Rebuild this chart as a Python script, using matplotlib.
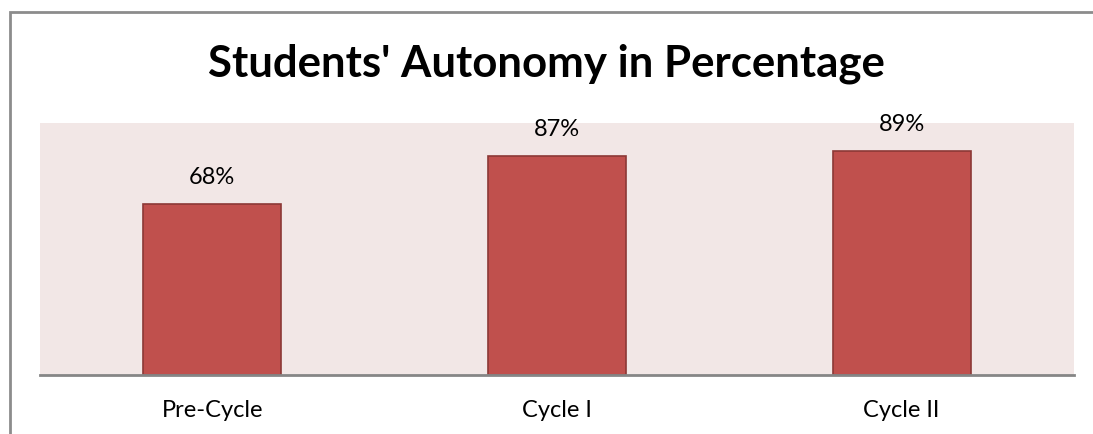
import matplotlib
matplotlib.use("Agg")
import matplotlib.pyplot as plt
from matplotlib.patches import Rectangle

categories = ["Pre-Cycle", "Cycle I", "Cycle II"]
autonomy = [0.68, 0.87, 0.89]
value_labels = ["68%", "87%", "89%"]

plt.rcParams['font.family'] = ['Lato', 'DejaVu Sans']

fig = plt.figure(figsize=(10.93, 4.34), dpi=100)

# outer chart border (cropped on the right and bottom)
fig.patches.append(Rectangle((10 / 1093, -0.1), 1.2, 1 - 11.5 / 434 + 0.1,
                             transform=fig.transFigure, fill=False,
                             edgecolor='#8c8c8c', linewidth=2))

ax = fig.add_axes([40 / 1093, 59 / 434, 1034 / 1093, 252 / 434])
ax.set_facecolor('#f2e7e6')

x = range(len(categories))
bars = ax.bar(x, autonomy, width=0.4, color='#c0504d', edgecolor='#8c3836', linewidth=1.2)
for i, v in enumerate(autonomy):
    ax.annotate(value_labels[i], (i, v), xytext=(0, 26), textcoords='offset pixels',
                ha='center', va='center', fontsize=17, color='black')

ax.set_xlim(-0.5, 2.5)
ax.set_ylim(0, 1.0)
ax.set_yticks([])
ax.set_xticks(list(x))
ax.set_xticklabels(categories, fontsize=17)
ax.tick_params(axis='x', length=0, pad=18)
for s in ['top', 'right', 'left']:
    ax.spines[s].set_visible(False)
ax.spines['bottom'].set_color('#868686')
ax.spines['bottom'].set_linewidth(2)

fig.text(0.5, 1 - 77 / 434, "Students' Autonomy in Percentage", ha='center', va='baseline',
         fontsize=31.5, fontweight='bold')

fig.savefig("out.png", dpi=100)
